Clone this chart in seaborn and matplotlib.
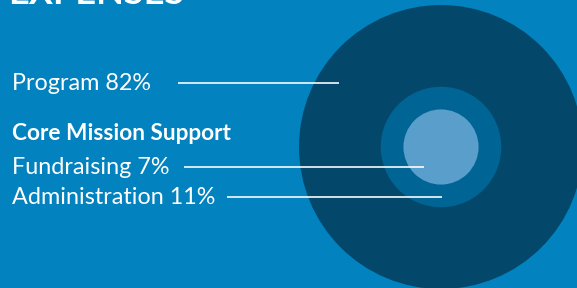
import numpy as np
import pandas as pd
import seaborn as sns
import matplotlib.pyplot as plt
from matplotlib.patches import Circle

# %% Data
title = "EXPENSES"
group_label = "Core Mission Support"
labels = ["Program", "Fundraising", "Administration"]
shares = [82, 7, 11]
# circles: whole budget, core mission support (fundraising + admin), fundraising
circle_shares = [100, 18, 7]

# %% Style
BG = "#0282bf"
circle_colors = ["#03486a", "#006495", "#5a9fcb"]

sns.set_theme(style="white")
plt.rcParams["font.family"] = ["Lato", "DejaVu Sans"]

W, H = 577, 288
fig = plt.figure(figsize=(W / 100, H / 100), dpi=100, facecolor=BG)
ax = fig.add_axes([0, 0, 1, 1])
ax.set_facecolor(BG)
ax.set_xlim(0, W)
ax.set_ylim(H, 0)
ax.set_aspect("equal")
ax.axis("off")

# circles, area proportional to share
R_FULL = 142
cx, cy = 441, 147
for s, c in zip(circle_shares, circle_colors):
    r = R_FULL * np.sqrt(s / 100)
    ax.add_patch(Circle((cx, cy), r, color=c, lw=0, zorder=1))

# labels + leader lines
df = pd.DataFrame({
    "label": labels,
    "share": shares,
    "y": [83, 167, 197],
    "x0": [178, 184, 227],
    "x1": [339, 424, 442],
})
for _, row in df.iterrows():
    ax.text(12, row["y"], f"{row['label']} {row['share']}%", color="white",
            fontsize=16.8, va="center", ha="left", zorder=3)
    ax.plot([row["x0"], row["x1"]], [row["y"] - 0.5, row["y"] - 0.5],
            color="white", lw=1.3, alpha=0.9, solid_capstyle="butt", zorder=2)

ax.text(12, 134, group_label, color="white", fontsize=16.3,
        fontweight="bold", va="center", ha="left", zorder=3)

# title, mostly cropped off the top
ax.text(8, 4, title, color="white", fontsize=26, fontweight="bold",
        va="baseline", ha="left", zorder=3)

fig.savefig("out.png", dpi=100, facecolor=BG)
